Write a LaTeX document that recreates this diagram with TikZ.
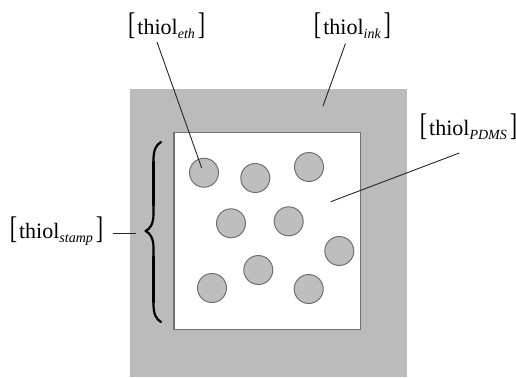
\documentclass[tikz,border=0pt]{standalone}
\usepackage{fontspec}
\setmainfont{Liberation Serif}
\usepackage{graphicx}
\definecolor{stampgray}{HTML}{BBBBBB}
\definecolor{dotgray}{HTML}{BEBEBE}
\definecolor{edgegray}{HTML}{707070}
\newcommand{\thl}[1]{\scalebox{1}[1.42]{[}\kern1pt thiol\raisebox{-1.7pt}{\fontsize{7}{7}\selectfont\itshape #1}\kern1.5pt\scalebox{1}[1.42]{]}}
\tikzset{
  lbl/.style={inner sep=0pt, font=\fontsize{11}{13}\selectfont},
  dot/.style={circle, draw=edgegray, line width=0.5pt, fill=dotgray, minimum size=14.5pt, inner sep=0pt},
  leader/.style={draw=black!85, line width=0.45pt},
  bracestroke/.style={line width=1.1pt, line cap=round, line join=round},
}
\begin{document}
\begin{tikzpicture}[x=0.5pt, y=-0.5pt]
\useasboundingbox (0,0) rectangle (516,377);
% stamp body
\fill[stampgray] (130,89) rectangle (407,377);
\draw[edgegray, line width=0.8pt, fill=white] (174,132.5) rectangle (360.5,329.5);
% dots
\node[dot] (c1) at (204,172.7) {};
\node[dot] (c2) at (255.3,178) {};
\node[dot] (c3) at (309,167) {};
\node[dot] (c4) at (231,223.3) {};
\node[dot] (c5) at (288.7,221.3) {};
\node[dot] (c6) at (339.3,251) {};
\node[dot] (c7) at (258.3,270) {};
\node[dot] (c8) at (212,288) {};
\node[dot] (c9) at (308.7,289) {};
% labels
\node[lbl] (eth) at (166.7,26) {\thl{eth}};
\node[lbl] (ink) at (352.5,26) {\thl{ink}};
\node[lbl] (pdms) at (468.5,127) {\thl{PDMS}};
\node[lbl] (stamp) at (56.5,231) {\thl{stamp}};
% leader ends
\coordinate (ethA) at (157,42);
\coordinate (ethB) at (201.7,168);
\coordinate (inkA) at (345.5,43.5);
\coordinate (inkB) at (323,106);
\coordinate (pdA) at (459.3,153);
\coordinate (pdB) at (330.7,201.7);
\coordinate (stA) at (113,233);
\coordinate (stB) at (136,233);
\draw[leader] (ethA) -- (ethB);
\draw[leader] (inkA) -- (inkB);
\draw[leader] (pdA) -- (pdB);
\draw[leader] (stA) -- (stB);
% brace
\draw[bracestroke] (161,142) .. controls (156,145) and (153.5,150) .. (153.5,160) -- (153.5,214)
  .. controls (153.5,224) and (150,229) .. (145.5,231)
  .. controls (150,233) and (153.5,238) .. (153.5,248) -- (153.5,304)
  .. controls (153.5,314) and (156,319) .. (161,322);
\draw[line width=1.9pt, line cap=round] (153.5,162) -- (153.5,205);
\draw[line width=1.9pt, line cap=round] (153.5,257) -- (153.5,302);
\end{tikzpicture}
\end{document}
